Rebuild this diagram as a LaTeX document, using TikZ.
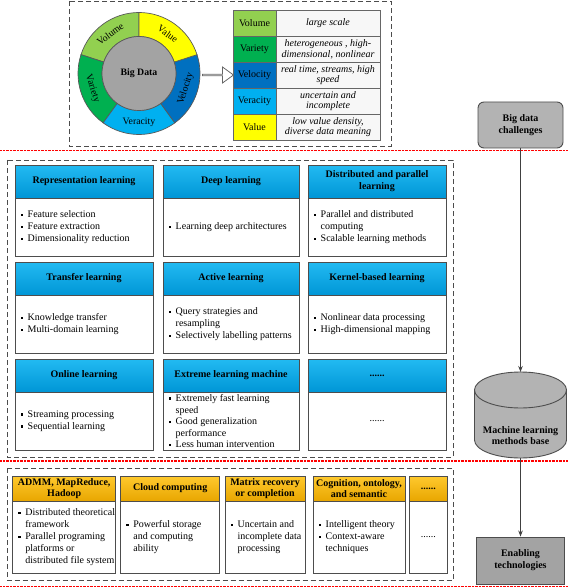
\documentclass[tikz,border=0pt]{standalone}
\usepackage{fontspec}
\setmainfont{Liberation Serif}
\usetikzlibrary{shapes.arrows,arrows.meta}
\definecolor{cVolume}{HTML}{92D050}
\definecolor{cVariety}{HTML}{00B050}
\definecolor{cVeracity}{HTML}{00B0F0}
\definecolor{cVelocity}{HTML}{0070C0}
\definecolor{cValue}{HTML}{FFFF00}
\definecolor{cInner}{HTML}{A3A3A3}
\definecolor{bordc}{HTML}{4D4D4D}
\definecolor{hdtop}{HTML}{22BAF2}
\definecolor{hdbot}{HTML}{0096D6}
\definecolor{gdtop}{HTML}{FFC92E}
\definecolor{gdbot}{HTML}{E8A600}
\definecolor{greybox}{HTML}{B3B3B3}
\definecolor{arrc}{HTML}{404040}
\newcommand\bodyfont{\fontsize{10}{12}\selectfont}
\newcommand\tabfont{\fontsize{10}{10.8}\selectfont}
\newcommand\headfont{\fontsize{10}{11.8}\selectfont\bfseries}
\newcommand\mybul{\makebox[7pt][l]{\raisebox{1.7pt}{\rule{2.4pt}{2.4pt}}}}
\newcommand\contind{\hspace*{7pt}}
\tikzset{
  dashbox/.style={draw=black!70, dash pattern=on 5pt off 3pt, line width=0.8pt},
  redline/.style={draw=red, dash pattern=on 0.8pt off 0.6pt, line width=1.3pt},
  mlhead/.style={draw=bordc, line width=0.9pt, top color=hdtop, bottom color=hdbot,
    minimum height=33pt, inner sep=1pt, outer sep=0pt, align=center, font=\headfont, anchor=north west},
  gdhead/.style={draw=bordc, line width=0.9pt, top color=gdtop, bottom color=gdbot,
    minimum height=25pt, inner sep=1pt, outer sep=0pt, align=center, font=\headfont, anchor=north west},
  mlbody/.style={draw=bordc, line width=0.9pt, fill=white, anchor=north west,
    minimum height=58.5pt, inner sep=0pt, outer sep=0pt},
  gdbody/.style={mlbody, minimum height=72.5pt},
  btext/.style={anchor=west, align=left, inner sep=0pt, font=\bodyfont, xshift=5.5pt},
  tleft/.style={draw=black!60, line width=0.7pt, minimum width=43pt, minimum height=26pt,
    inner sep=1pt, outer sep=0pt, anchor=north west, font=\tabfont},
  tright/.style={draw=black!60, line width=0.7pt, minimum width=104pt, minimum height=26pt,
    inner sep=1pt, outer sep=0pt, anchor=north west, align=center, font=\tabfont\itshape, fill=gray!6},
  ringlabel/.style={font=\fontsize{9.8}{11}\selectfont, inner sep=0pt},
  greyrect/.style={draw=bordc, line width=0.9pt, fill=greybox, align=center, font=\headfont},
  flow/.style={draw=arrc, line width=0.9pt, -{Stealth[length=6pt,width=4.5pt]}},
}
\begin{document}
\begin{tikzpicture}[x=1pt,y=-1pt]
\useasboundingbox (0,0) rectangle (568,588);

% red separators
\draw[redline] (0,150.5) -- (568,150.5);
\draw[redline] (0,461) -- (568,461);
\draw[redline] (0,586.5) -- (568,586.5);

% ---------- top panel ----------
\draw[dashbox] (69,1) rectangle (391,146);
\begin{scope}[shift={(139pt,-73.5pt)}, x=1pt, y=1pt]
  \foreach \a/\b/\c in {90/162/cVolume, 162/234/cVariety, 234/306/cVeracity, -54/18/cVelocity, 18/90/cValue}
    \filldraw[fill=\c, draw=black!65, line width=0.7pt]
      (\a:61pt) arc[start angle=\a, end angle=\b, radius=61pt] -- (\b:37pt)
      arc[start angle=\b, end angle=\a, radius=37pt] -- cycle;
  \filldraw[fill=cInner, draw=black!65, line width=0.7pt] (0,0) circle[radius=37pt];
  \node[ringlabel, rotate=36] (lVolume) at (126:49pt) {Volume};
  \node[ringlabel, rotate=-36] (lValue) at (54:49pt) {Value};
  \node[ringlabel, rotate=72] (lVelocity) at (-18:49pt) {Velocity};
  \node[ringlabel] (lVeracity) at (-90:49pt) {Veracity};
  \node[ringlabel, rotate=-72] (lVariety) at (198:49pt) {Variety};
\end{scope}
\node[inner sep=1pt, font=\fontsize{9.8}{11}\selectfont\bfseries] (bigdata) at (139,73.5) {Big Data};

\node[single arrow, draw=black!60, fill=white, line width=0.8pt, minimum height=31pt,
      minimum width=16pt, single arrow head extend=4pt, single arrow tip angle=72,
      inner sep=0pt] (bigarrow) at (217.5,75) {};

\node[tleft, fill=cVolume] (t1l) at (233,10) {Volume};
\node[tright] (t1r) at (276,10) {large scale};
\node[tleft, fill=cVariety] (t2l) at (233,36) {Variety};
\node[tright] (t2r) at (276,36) {heterogeneous , high-\\dimensional, nonlinear};
\node[tleft, fill=cVelocity] (t3l) at (233,62) {Velocity};
\node[tright] (t3r) at (276,62) {real time, streams, high\\speed};
\node[tleft, fill=cVeracity] (t4l) at (233,88) {Veracity};
\node[tright] (t4r) at (276,88) {uncertain and\\incomplete};
\node[tleft, fill=cValue] (t5l) at (233,114) {Value};
\node[tright] (t5r) at (276,114) {low value density,\\diverse data meaning};

% ---------- right column ----------
\node[greyrect, rounded corners=6pt, minimum width=85pt, minimum height=46pt] (challenges) at (520.5,125) {Big data\\challenges};
\node[greyrect, fill=cInner, minimum width=88pt, minimum height=47pt] (enabling) at (520.5,560.5) {Enabling\\technologies};
\begin{scope}[shift={(520.5pt,-415pt)}, x=1pt, y=1pt]
  \filldraw[fill=greybox, draw=bordc, line width=0.9pt]
    (-46pt,25pt) -- (-46pt,-25pt) arc[start angle=180, end angle=360, x radius=46pt, y radius=18pt]
    -- (46pt,25pt) arc[start angle=0, end angle=180, x radius=46pt, y radius=18pt] -- cycle;
  \draw[draw=bordc, line width=0.9pt] (-46pt,25pt) arc[start angle=180, end angle=360, x radius=46pt, y radius=18pt];
\end{scope}
\node[minimum width=92pt, minimum height=86pt, inner sep=0pt, outer sep=0pt] (mlb) at (520.5,415) {};
\node[align=center, font=\headfont] (mlbtext) at (520.5,435.5) {Machine learning\\methods base};
\draw[flow] (challenges.south) -- (mlb.north);
\draw[flow] (mlb.south) -- (enabling.north);

% ---------- middle panel ----------
\draw[dashbox] (7,160) rectangle (453,457);

\node[mlhead, minimum width=138pt] (h1) at (15,165) {Representation learning};
\node[mlbody, minimum width=138pt] (b1) at (h1.south west) {};
\node[btext] (b1t) at (b1.west) {\mybul Feature selection\\\mybul Feature extraction\\\mybul Dimensionality reduction};

\node[mlhead, minimum width=136pt] (h2) at (163,165) {Deep learning};
\node[mlbody, minimum width=136pt] (b2) at (h2.south west) {};
\node[btext] (b2t) at (b2.west) {\mybul Learning deep architectures};

\node[mlhead, minimum width=138pt] (h3) at (308,165) {Distributed and parallel\\learning};
\node[mlbody, minimum width=138pt] (b3) at (h3.south west) {};
\node[btext] (b3t) at (b3.west) {\mybul Parallel and distributed\\\contind computing\\\mybul Scalable learning methods};

\node[mlhead, minimum width=138pt] (h4) at (15,262) {Transfer learning};
\node[mlbody, minimum width=138pt] (b4) at (h4.south west) {};
\node[btext] (b4t) at (b4.west) {\mybul Knowledge transfer\\\mybul Multi-domain learning};

\node[mlhead, minimum width=136pt] (h5) at (163,262) {Active learning};
\node[mlbody, minimum width=136pt] (b5) at (h5.south west) {};
\node[btext] (b5t) at (b5.west) {\mybul Query strategies and\\\contind resampling\\\mybul Selectively labelling patterns};

\node[mlhead, minimum width=138pt] (h6) at (308,262) {Kernel-based learning};
\node[mlbody, minimum width=138pt] (b6) at (h6.south west) {};
\node[btext] (b6t) at (b6.west) {\mybul Nonlinear data processing\\\mybul High-dimensional mapping};

\node[mlhead, minimum width=138pt] (h7) at (15,359) {Online learning};
\node[mlbody, minimum width=138pt] (b7) at (h7.south west) {};
\node[btext] (b7t) at (b7.west) {\mybul Streaming processing\\\mybul Sequential learning};

\node[mlhead, minimum width=136pt] (h8) at (163,359) {Extreme learning machine};
\node[mlbody, minimum width=136pt] (b8) at (h8.south west) {};
\node[btext, font=\fontsize{10}{11.6}\selectfont] (b8t) at (b8.west) {\mybul Extremely fast learning\\\contind speed\\\mybul Good generalization\\\contind performance\\\mybul Less human intervention};

\node[mlhead, minimum width=138pt] (h9) at (308,359) {......};
\node[mlbody, minimum width=138pt] (b9) at (h9.south west) {};
\node[font=\bodyfont, inner sep=0pt] (b9t) at (b9.center) {......};

% ---------- bottom panel ----------
\draw[dashbox] (7,468) rectangle (453,580.5);

\node[gdhead, minimum width=103pt] (g1) at (12.7,476) {ADMM, MapReduce,\\Hadoop};
\node[gdbody, minimum width=103pt] (e1) at (g1.south west) {};
\node[btext] (e1t) at (e1.west) {\mybul Distributed theoretical\\\contind framework\\\mybul Parallel programing\\\contind platforms or\\\contind distributed file system};

\node[gdhead, minimum width=99pt] (g2) at (120.7,476) {Cloud computing};
\node[gdbody, minimum width=99pt] (e2) at (g2.south west) {};
\node[btext] (e2t) at (e2.west) {\mybul Powerful storage\\\contind and computing\\\contind ability};

\node[gdhead, minimum width=80pt] (g3) at (225,476) {Matrix recovery\\or completion};
\node[gdbody, minimum width=80pt] (e3) at (g3.south west) {};
\node[btext] (e3t) at (e3.west) {\mybul Uncertain and\\\contind incomplete data\\\contind processing};

\node[gdhead, minimum width=92pt] (g4) at (313,476) {Cognition, ontology,\\and semantic};
\node[gdbody, minimum width=92pt] (e4) at (g4.south west) {};
\node[btext] (e4t) at (e4.west) {\mybul Intelligent theory\\\mybul Context-aware\\\contind techniques};

\node[gdhead, minimum width=38pt] (g5) at (409.3,476) {......};
\node[gdbody, minimum width=38pt] (e5) at (g5.south west) {};
\node[font=\bodyfont, inner sep=0pt] (e5t) at (e5.center) {......};
\end{tikzpicture}
\end{document}
